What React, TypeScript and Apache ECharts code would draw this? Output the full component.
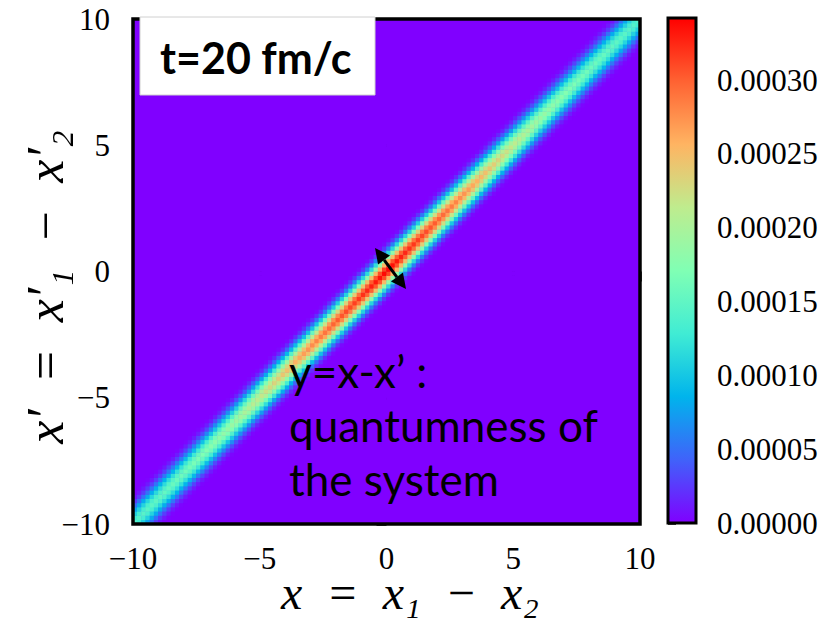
import React, { useEffect, useRef } from "react";
import * as echarts from "echarts";

// ---- data ----
const N = 120; // heat-map resolution per axis
const axisMin = -10;
const axisMax = 10;
const axisTickValues = [-10, -5, 0, 5, 10];
// amplitude along the diagonal y = x (units of 1e-5), at positions diagPos
const diagPos = [-10, -9, -8, -7, -6, -5, -4, -3, -2, -1, 0, 1, 2, 3, 4, 5, 6, 7, 8, 9, 10];
const diagAmp = [14, 15, 16, 17.5, 19, 21.5, 24.5, 27.5, 30, 32, 34, 32, 30, 27.5, 24.5, 21.5, 19, 17.5, 16, 15, 14];
// relative fall-off across the band versus |x - x'|
const crossOff = [0, 0.2, 0.4, 0.6, 0.8, 1.0, 1.2];
const crossFac = [1, 0.9, 0.68, 0.42, 0.2, 0.07, 0];
const cbarMin = 0;
const cbarMax = 0.000342;
const cbarTicks = [0, 0.00005, 0.0001, 0.00015, 0.0002, 0.00025, 0.0003];
const palette = ["#8000ff", "#4062fa", "#00b4ec", "#40ecd4", "#80ffb4", "#bfec8e", "#ffb462", "#ff6232", "#ff0000"];
const timeLabel = "t=20 fm/c";
const noteLines = ["y=x-x’ :", "quantumness of", "the system"];
const xTitle = "x\u2002=\u2002x₁\u2002−\u2002x₂";
const yTitle = "x′\u2002=\u2002x′₁\u2002−\u2002x′₂";

function lerpTable(xs: number[], ys: number[], p: number): number {
  if (p <= xs[0]) return ys[0];
  for (let k = 0; k < xs.length - 1; k++) {
    if (p >= xs[k] && p <= xs[k + 1]) {
      const t = (p - xs[k]) / (xs[k + 1] - xs[k]);
      return ys[k] + t * (ys[k + 1] - ys[k]);
    }
  }
  return ys[ys.length - 1];
}

function buildCells() {
  const cells: number[][] = [];
  const step = (axisMax - axisMin) / N;
  for (let i = 0; i < N; i++) {
    const x = axisMin + step * (i + 0.5);
    for (let j = 0; j < N; j++) {
      const y = axisMin + step * (j + 0.5);
      const d = Math.abs(x - y);
      const f = lerpTable(crossOff, crossFac, d);
      const v = f > 0 ? lerpTable(diagPos, diagAmp, (x + y) / 2) * 1e-5 * f : 0;
      cells.push([i, j, v]);
    }
  }
  return cells;
}

const fmtMinus = (v: number) => (v < 0 ? "\u2212" + Math.abs(v) : String(v));

export default function App() {
  const ref = useRef<HTMLDivElement>(null);
  useEffect(() => {
    if (!ref.current) return;
    const chart = echarts.init(ref.current, null, { renderer: "svg" });
    const idx = Array.from({ length: N }, (_, i) => i);
    const PL = 133, PT = 19, PW = 507, PH = 505;
    const CL = 668, CW = 28;
    const labelFont = { fontFamily: "Liberation Serif", fontSize: 31, color: "#000" };

    // arrow geometry
    const tip1 = [375, 248], tip2 = [406, 289];
    const dx = tip2[0] - tip1[0], dy = tip2[1] - tip1[1];
    const len = Math.hypot(dx, dy);
    const ux = dx / len, uy = dy / len, px = -uy, py = ux;
    const hl = 15, hw = 7.5;
    const b1 = [tip1[0] + hl * ux, tip1[1] + hl * uy];
    const b2 = [tip2[0] - hl * ux, tip2[1] - hl * uy];

    chart.setOption({
      animation: false,
      grid: [
        { left: PL, top: PT, width: PW, height: PH, show: true, backgroundColor: "#8000ff", borderWidth: 0 },
        { left: PL, top: PT, width: PW, height: PH, show: false },
        { left: CL, top: 18, width: CW, height: 505, show: false },
      ],
      xAxis: [
        { type: "category", gridIndex: 0, data: idx, show: false },
        {
          type: "value", gridIndex: 1, min: axisMin, max: axisMax, interval: 5, position: "bottom",
          axisLine: { show: false }, splitLine: { show: false },
          axisTick: { show: true, length: 10, lineStyle: { color: "#000", width: 2.5 } },
          axisLabel: { ...labelFont, margin: 19, formatter: fmtMinus, customValues: axisTickValues },
        },
        { type: "value", gridIndex: 2, show: false },
      ],
      yAxis: [
        { type: "category", gridIndex: 0, data: idx, show: false },
        {
          type: "value", gridIndex: 1, min: axisMin, max: axisMax, interval: 5, position: "left",
          axisLine: { show: false }, splitLine: { show: false },
          axisTick: { show: true, length: 10, lineStyle: { color: "#000", width: 2.5 } },
          axisLabel: { ...labelFont, margin: 23, formatter: fmtMinus, customValues: axisTickValues },
        },
        {
          type: "value", gridIndex: 2, min: cbarMin, max: cbarMax, position: "right",
          axisLine: { show: false }, splitLine: { show: false },
          axisTick: { show: true, length: 8, lineStyle: { color: "#000", width: 2.5 }, customValues: cbarTicks },
          axisLabel: { ...labelFont, margin: 21, formatter: (v: number) => v.toFixed(5), customValues: cbarTicks },
        },
      ],
      visualMap: {
        show: false, type: "continuous", min: cbarMin, max: cbarMax, dimension: 2, seriesIndex: 0,
        inRange: { color: palette },
      },
      series: [
        {
          type: "heatmap", xAxisIndex: 0, yAxisIndex: 0, data: buildCells(), progressive: 0,
          silent: true, emphasis: { disabled: true },
        },
      ],
      graphic: [
        { type: "rect", z: 50, shape: { x: PL, y: PT, width: PW, height: PH }, style: { fill: "none", stroke: "#000", lineWidth: 3.5 } },
        {
          type: "rect", z: 50, shape: { x: CL, y: 18, width: CW, height: 505 },
          style: {
            fill: new echarts.graphic.LinearGradient(0, 1, 0, 0,
              palette.map((c, i) => ({ offset: i / (palette.length - 1), color: c }))),
            stroke: "#000", lineWidth: 3,
          },
        },
        { type: "rect", z: 60, shape: { x: 140, y: 17, width: 235, height: 78 }, style: { fill: "#fff", stroke: "#d0d0d0", lineWidth: 1 } },
        {
          type: "text", z: 61, x: 160, y: 57,
          style: { text: timeLabel, font: "bold 43px Lato", fill: "#000", textVerticalAlign: "middle" },
        },
        {
          type: "text", z: 61, x: 289, y: 344,
          style: { text: noteLines.join("\n"), font: "44px Lato", lineHeight: 54, fill: "#000", textVerticalAlign: "top" },
        },
        { type: "line", z: 62, shape: { x1: b1[0], y1: b1[1], x2: b2[0], y2: b2[1] }, style: { stroke: "#000", lineWidth: 3 } },
        {
          type: "polygon", z: 62,
          shape: { points: [tip1, [b1[0] + hw * px, b1[1] + hw * py], [b1[0] - hw * px, b1[1] - hw * py]] },
          style: { fill: "#000" },
        },
        {
          type: "polygon", z: 62,
          shape: { points: [tip2, [b2[0] + hw * px, b2[1] + hw * py], [b2[0] - hw * px, b2[1] - hw * py]] },
          style: { fill: "#000" },
        },
        {
          type: "text", z: 61, x: 410, y: 616,
          style: { text: xTitle, font: "italic 48px 'Liberation Serif'", fill: "#000", textAlign: "center", textVerticalAlign: "bottom" },
        },
        {
          type: "text", z: 61, x: 45, y: 287, rotation: Math.PI / 2,
          style: { text: yTitle, font: "italic 52px 'Liberation Serif'", lineHeight: 40, fill: "#000", textAlign: "center", textVerticalAlign: "middle" },
        },
      ],
    });
    return () => chart.dispose();
  }, []);
  return <div ref={ref} style={{ position: "absolute", left: 0, top: 0, width: 825, height: 619 }} />;
}
